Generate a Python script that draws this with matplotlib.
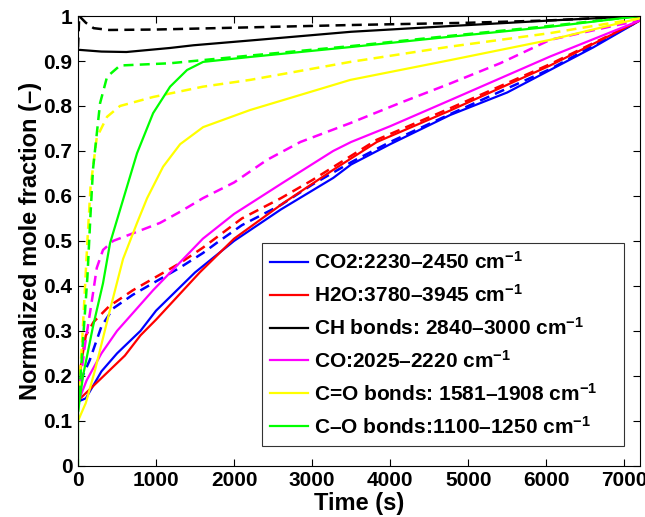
import numpy as np
import matplotlib
matplotlib.use('Agg')
import matplotlib.pyplot as plt

plt.rcParams['font.family'] = ['Liberation Sans', 'DejaVu Sans']
plt.rcParams['font.weight'] = 'bold'
plt.rcParams['mathtext.fontset'] = 'custom'
plt.rcParams['mathtext.rm'] = 'Liberation Sans:bold'
plt.rcParams['mathtext.it'] = 'Liberation Sans:bold'
plt.rcParams['mathtext.bf'] = 'Liberation Sans:bold'
plt.rcParams['mathtext.default'] = 'rm'

# ---- data (time in s, normalized mole fraction) ----
labels = ['CO2:2230\u20132450 cm$^{-1}$',
          'H2O:3780\u20133945 cm$^{-1}$',
          'CH bonds: 2840\u20133000 cm$^{-1}$',
          'CO:2025\u20132220 cm$^{-1}$',
          'C=O bonds: 1581\u20131908 cm$^{-1}$',
          'C\u2013O bonds:1100\u20131250 cm$^{-1}$']
colors = [(0, 0, 1), (1, 0, 0), (0, 0, 0), (1, 0, 1), (1, 1, 0), (0, 1, 0)]

# solid curves
co2_t = [30, 100, 300, 500, 800, 1000, 1500, 2000, 2600, 3270, 3500, 4000, 4770, 5500, 6050, 6600, 7200]
co2_y = [0.145, 0.15, 0.21, 0.25, 0.30, 0.345, 0.43, 0.50, 0.57, 0.64, 0.67, 0.715, 0.78, 0.83, 0.88, 0.93, 0.99]
h2o_t = [30, 300, 600, 800, 1000, 1560, 2000, 2630, 3270, 3830, 4770, 6050, 7200]
h2o_y = [0.15, 0.195, 0.245, 0.29, 0.325, 0.43, 0.505, 0.584, 0.658, 0.72, 0.79, 0.89, 0.99]
ch_t = [0, 300, 620, 1180, 1480, 2300, 3500, 4800, 6050, 7200]
ch_y = [0.925, 0.921, 0.92, 0.929, 0.935, 0.947, 0.965, 0.978, 0.99, 1.0]
co_t = [20, 110, 300, 500, 960, 1600, 2000, 2630, 3270, 3500, 4000, 4770, 6050, 7200]
co_y = [0.15, 0.19, 0.25, 0.30, 0.39, 0.505, 0.56, 0.63, 0.70, 0.72, 0.755, 0.813, 0.91, 0.99]
cdo_t = [0, 100, 218, 410, 577, 756, 885, 1090, 1308, 1603, 2205, 3490, 4770, 6050, 7200]
cdo_y = [0.10, 0.14, 0.213, 0.347, 0.46, 0.54, 0.595, 0.665, 0.715, 0.753, 0.791, 0.858, 0.902, 0.947, 0.995]
cso_t = [0, 0, 64, 192, 320, 410, 538, 756, 962, 1180, 1397, 1603, 2205, 3490, 4770, 6050, 7200]
cso_y = [0.0, 0.12, 0.2, 0.31, 0.406, 0.495, 0.569, 0.695, 0.784, 0.843, 0.88, 0.898, 0.909, 0.931, 0.954, 0.976, 1.0]

# dashed curves
co2d_t = [0, 60, 150, 300, 450, 700, 960, 1300, 1600, 1780, 2100, 2600, 3000, 3500, 4000, 4770, 6050, 7200]
co2d_y = [0.15, 0.2, 0.235, 0.31, 0.35, 0.38, 0.406, 0.44, 0.473, 0.496, 0.535, 0.58, 0.625, 0.675, 0.72, 0.782, 0.882, 0.99]
h2od_t = [0, 50, 100, 200, 400, 700, 1000, 1300, 1600, 2100, 2600, 3000, 3830, 4770, 6050, 7200]
h2od_y = [0.17, 0.24, 0.29, 0.32, 0.355, 0.39, 0.42, 0.45, 0.485, 0.55, 0.595, 0.635, 0.725, 0.795, 0.893, 0.99]
chd_t = [0, 15, 100, 200, 400, 1000, 2000, 3500, 5000, 6000, 7200]
chd_y = [0.93, 1.0, 0.985, 0.973, 0.969, 0.97, 0.974, 0.98, 0.985, 0.99, 1.0]
cod_t = [0, 90, 180, 240, 320, 450, 750, 1050, 1310, 1600, 2000, 2420, 2850, 3490, 4130, 4770, 5410, 6050, 6910, 7200]
cod_y = [0.15, 0.27, 0.37, 0.44, 0.48, 0.50, 0.52, 0.54, 0.565, 0.595, 0.63, 0.68, 0.72, 0.762, 0.807, 0.85, 0.895, 0.947, 0.98, 0.99]
cdod_t = [0, 60, 120, 160, 240, 372, 538, 962, 1603, 2205, 3490, 4770, 6050, 7200]
cdod_y = [0.13, 0.3, 0.5, 0.62, 0.73, 0.776, 0.80, 0.82, 0.843, 0.858, 0.898, 0.932, 0.962, 0.995]
csod_t = [0, 60, 120, 160, 192, 282, 372, 538, 1180, 1600, 2200, 3490, 4770, 6050, 7200]
csod_y = [0.12, 0.27, 0.42, 0.56, 0.66, 0.806, 0.865, 0.89, 0.895, 0.902, 0.912, 0.933, 0.956, 0.978, 1.0]

solid = [(co2_t, co2_y), (h2o_t, h2o_y), (ch_t, ch_y), (co_t, co_y), (cdo_t, cdo_y), (cso_t, cso_y)]
dashed = [(co2d_t, co2d_y), (h2od_t, h2od_y), (chd_t, chd_y), (cod_t, cod_y), (cdod_t, cdod_y), (csod_t, csod_y)]

fig = plt.figure(figsize=(6.45, 5.17), dpi=100)
ax = fig.add_axes([0.121, 0.099, 0.871, 0.870])

for (t, y), c in zip(dashed, colors):
    ax.plot(t, y, '--', color=c, lw=1.8, dashes=(4, 2.5))
for (t, y), c, lbl in zip(solid, colors, labels):
    # trailing spaces give the extra room MATLAB leaves on the right of the legend box
    ax.plot(t, y, '-', color=c, lw=1.6, label=lbl + '    ')

ax.set_xlim(0, 7200)
ax.set_ylim(0, 1)
ax.set_xticks(np.arange(0, 7001, 1000))
ax.set_yticks(np.arange(0, 1.01, 0.1))
ax.set_yticklabels(['0', '0.1', '0.2', '0.3', '0.4', '0.5', '0.6', '0.7', '0.8', '0.9', '1'])
ax.tick_params(direction='in', top=True, right=True, labelsize=15, length=5, width=0.8, pad=4)
for s in ax.spines.values():
    s.set_linewidth(0.8)
ax.set_xlabel('Time (s)', fontsize=17, fontweight='bold', labelpad=1)
ax.set_ylabel('Normalized mole fraction (\u2013)', fontsize=17, fontweight='bold', labelpad=1)

leg = ax.legend(loc='upper left', bbox_to_anchor=(0.327, 0.496), borderaxespad=0,
                fontsize=15, frameon=True, fancybox=False, edgecolor='k',
                handlelength=1.8, handletextpad=0.3, labelspacing=0.53, borderpad=0.4)
leg.get_frame().set_linewidth(0.8)

fig.savefig('out.png', dpi=100)
